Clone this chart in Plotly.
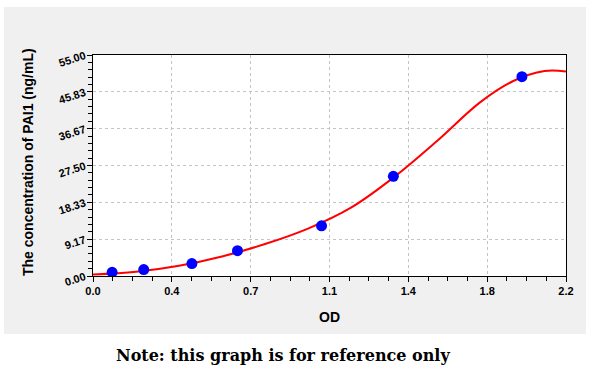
import plotly.graph_objects as go

# Standard points (OD, concentration)
od_points = [0.089, 0.236, 0.460, 0.672, 1.063, 1.397, 1.995]
conc_points = [0.92, 1.59, 3.08, 6.31, 12.5, 24.8, 49.6]

# Fitted curve
curve_od = [0.0, 0.2, 0.4, 0.6, 0.8, 1.0, 1.2, 1.4, 1.6, 1.8, 1.95, 2.1, 2.2]
curve_conc = [0.35, 1.05, 2.55, 4.85, 7.95, 11.8, 17.0, 24.6, 33.6, 43.2, 48.4, 51.0, 50.9]

# Tick labels
x_tickvals = [0.0, 2.2/6, 2*2.2/6, 3*2.2/6, 4*2.2/6, 5*2.2/6, 2.2]
x_ticktext = ["0.0", "0.4", "0.7", "1.1", "1.4", "1.8", "2.2"]
y_tickvals = [0.0, 55/6, 2*55/6, 3*55/6, 4*55/6, 5*55/6, 55.0]
y_ticktext = ["0.00", "9.17", "18.33", "27.50", "36.67", "45.83", "55.00"]

fig = go.Figure()
fig.add_trace(go.Scatter(x=curve_od, y=curve_conc, mode="lines",
                         line=dict(color="#ff0000", width=2, shape="spline", smoothing=1.0),
                         hoverinfo="skip", showlegend=False))
fig.add_trace(go.Scatter(x=od_points, y=conc_points, mode="markers",
                         marker=dict(color="#0000ff", size=11, line=dict(width=0)),
                         showlegend=False))

L, R, T, B = 93, 34, 55, 98
W, H = 600, 374
pw, ph = W - L - R, H - T - B

def px_x(px):
    return (px - L) / pw

def px_y(py):
    return (H - B - py) / ph

fig.add_shape(type="rect", xref="paper", yref="paper",
              x0=px_x(4), x1=px_x(586), y0=px_y(334), y1=px_y(7),
              fillcolor="#f0f0f0", line=dict(width=0), layer="below")
fig.add_shape(type="rect", xref="paper", yref="paper",
              x0=0, x1=1, y0=0, y1=1,
              fillcolor="#ffffff", line=dict(width=0), layer="below")

FAM = "Liberation Sans, Arial, sans-serif"
axis_font = dict(family=FAM, size=11, color="#000000", weight="bold")

fig.update_xaxes(range=[0, 2.2], tickvals=x_tickvals, ticktext=x_ticktext,
                 showline=True, linecolor="#000000", linewidth=1, mirror=True,
                 ticks="outside", ticklen=5, tickcolor="#000000",
                 showgrid=True, gridcolor="#c4c4c4", griddash="dot", gridwidth=1,
                 zeroline=False, tickfont=axis_font,
                 minor=dict(ticks="outside", ticklen=4, dtick=2.2/24, tick0=0, tickcolor="#000000", showgrid=False))
fig.update_yaxes(range=[0, 55], tickvals=y_tickvals, ticktext=y_ticktext,
                 showline=True, linecolor="#000000", linewidth=1, mirror=True,
                 ticks="outside", ticklen=5, tickcolor="#000000",
                 showgrid=True, gridcolor="#c4c4c4", griddash="dot", gridwidth=1,
                 zeroline=False, tickfont=axis_font, tickangle=-18,
                 minor=dict(ticks="outside", ticklen=4, dtick=55/30, tick0=0, tickcolor="#000000", showgrid=False))

fig.add_annotation(text="OD", xref="paper", yref="paper",
                   x=px_x(329.5), y=px_y(317), showarrow=False, xanchor="center", yanchor="middle",
                   font=dict(family=FAM, size=14, color="#000000", weight="bold"))
fig.add_annotation(text="The concentration of PAI1 (ng/mL)", xref="paper", yref="paper",
                   x=px_x(28), y=px_y(162), showarrow=False, xanchor="center", yanchor="middle",
                   textangle=-90,
                   font=dict(family=FAM, size=14, color="#000000", weight="bold"))
fig.add_annotation(text="Note: this graph is for reference only", xref="paper", yref="paper",
                   x=px_x(282.5), y=px_y(355), showarrow=False, xanchor="center", yanchor="middle",
                   font=dict(family="DejaVu Serif, Liberation Serif, serif", size=16, color="#000000", weight="bold"))

fig.update_layout(width=W, height=H, margin=dict(l=L, r=R, t=T, b=B),
                  paper_bgcolor="#ffffff", plot_bgcolor="#ffffff", showlegend=False)

fig.write_html("out.html", config={"displayModeBar": False},
               post_script="document.body.style.margin='0';")
